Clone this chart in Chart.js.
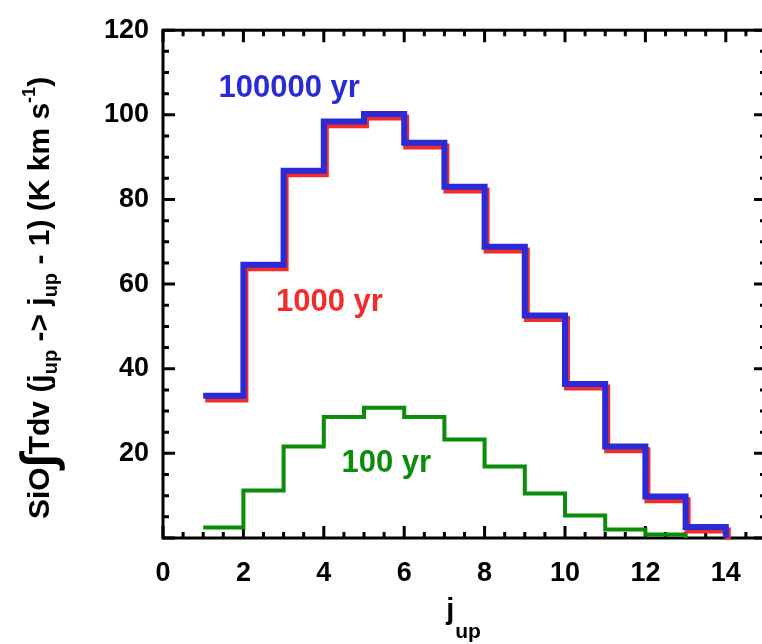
<!DOCTYPE html>
<html>
<head>
<meta charset="utf-8">
<script src="https://cdn.jsdelivr.net/npm/chart.js@4.4.1/dist/chart.umd.min.js"></script>
<style>
html,body{margin:0;padding:0;overflow:hidden;background:#fff}
canvas{display:block}
</style>
</head>
<body>
<canvas id="sioChart" width="790" height="644"></canvas>
<script>
// j_up levels (each step covers j_up .. j_up+1)
const jUp=[1,2,3,4,5,6,7,8,9,10,11,12,13];
const yr100000=[33.6,64.6,86.8,98.4,100.2,93.4,83.0,68.8,52.6,36.4,21.6,9.8,2.6];
const yr1000=[33.1,64.1,86.3,97.9,99.7,92.9,82.5,68.3,52.1,35.9,21.1,9.3,2.1];
const yr100=[2.5,11.2,21.6,28.6,30.8,28.6,23.3,16.9,10.5,5.3,2.0,0.8];
const seriesNames=["100000 yr","1000 yr","100 yr"];
const xTickLabels=[0,2,4,6,8,10,12,14];
const yTickLabels=[20,40,60,80,100,120];

const BLUE="#2a2ad6", RED="#f22b2b", GREEN="#0b8c0b";
const FONT="'Liberation Sans', Arial, sans-serif";

// step outline: one point per level, then drop to zero at the end of the last bin
function steps(vals){
  const pts=vals.map((v,i)=>({x:jUp[i],y:v}));
  const last=jUp[vals.length-1]+1;
  pts.push({x:last,y:vals[vals.length-1]});
  pts.push({x:last,y:0});
  return pts;
}

const frame={
  id:"frame",
  beforeDatasetsDraw(chart){
    const {ctx,chartArea:a,scales:{x,y}}=chart;
    ctx.save();
    ctx.strokeStyle="#000";
    ctx.lineWidth=3;
    ctx.strokeRect(a.left,a.top,a.right-a.left,a.bottom-a.top);
    ctx.beginPath();
    for(let v=0;v<=15;v+=0.5){
      const p=x.getPixelForValue(v);
      const len=(v%2===0)?12:6;
      ctx.moveTo(p,a.bottom);ctx.lineTo(p,a.bottom-len);
      ctx.moveTo(p,a.top);ctx.lineTo(p,a.top+len);
    }
    for(let v=0;v<=120;v+=5){
      const p=y.getPixelForValue(v);
      const len=(v%20===0)?12:6;
      ctx.moveTo(a.left,p);ctx.lineTo(a.left+len,p);
      ctx.moveTo(a.right,p);ctx.lineTo(a.right-len,p);
    }
    ctx.stroke();
    ctx.restore();
  },
  beforeDatasetDraw(chart,args){
    if(args.index===1){chart.ctx.save();chart.ctx.translate(2,1.5);}
  },
  afterDatasetDraw(chart,args){
    if(args.index===1){chart.ctx.restore();}
  },
  afterDraw(chart){
    const {ctx,scales:{x,y}}=chart;
    ctx.save();
    ctx.textBaseline="alphabetic";
    ctx.textAlign="left";
    // series labels
    ctx.font="bold 31px "+FONT;
    ctx.fillStyle=BLUE;
    ctx.fillText(seriesNames[0],x.getPixelForValue(1.38),y.getPixelForValue(104.2));
    ctx.fillStyle=RED;
    ctx.fillText(seriesNames[1],x.getPixelForValue(2.81),y.getPixelForValue(53.7));
    ctx.fillStyle=GREEN;
    ctx.fillText(seriesNames[2],x.getPixelForValue(4.44),y.getPixelForValue(15.6));

    ctx.fillStyle="#000";
    // x title: j_up
    ctx.font="bold 29px "+FONT;
    const jw=ctx.measureText("j").width;
    ctx.font="bold 21px "+FONT;
    const uw=ctx.measureText("up").width;
    const x0=463-(jw+uw)/2;
    ctx.font="bold 29px "+FONT;
    ctx.fillText("j",x0,619);
    ctx.font="bold 21px "+FONT;
    ctx.fillText("up",x0+jw+1,638);

    // y title, rotated
    const parts=[
      {t:"SiO",f:30,dy:0},
      {t:"\u222B",f:48,dy:5},
      {t:"Tdv (j",f:30,dy:0},
      {t:"up",f:20,dy:8},
      {t:" -> j",f:30,dy:0},
      {t:"up",f:20,dy:8},
      {t:" - 1) (K km s",f:30,dy:0},
      {t:"-1",f:18,dy:-14},
      {t:")",f:30,dy:0}
    ];
    let total=0;
    parts.forEach(p=>{ctx.font="bold "+p.f+"px "+FONT;p.w=ctx.measureText(p.t).width;total+=p.w;});
    ctx.translate(49,298);
    ctx.rotate(-Math.PI/2);
    let cx=-total/2;
    parts.forEach(p=>{
      ctx.font="bold "+p.f+"px "+FONT;
      ctx.fillText(p.t,cx,p.dy);
      cx+=p.w;
    });
    ctx.restore();
  }
};

new Chart(document.getElementById("sioChart"),{
  type:"line",
  data:{
    datasets:[
      {label:seriesNames[0],data:steps(yr100000),borderColor:BLUE,borderWidth:6,stepped:"before",pointRadius:0,fill:false,clip:false},
      {label:seriesNames[1],data:steps(yr1000),borderColor:RED,borderWidth:6,stepped:"before",pointRadius:0,fill:false,clip:false},
      {label:seriesNames[2],data:steps(yr100),borderColor:GREEN,borderWidth:4,stepped:"before",pointRadius:0,fill:false,clip:false}
    ]
  },
  options:{
    responsive:false,
    animation:false,
    devicePixelRatio:1,
    layout:{padding:{left:0,right:24,top:22,bottom:0}},
    plugins:{legend:{display:false},tooltip:{enabled:false}},
    scales:{
      x:{
        type:"linear",min:0,max:15,
        grid:{display:false,drawTicks:false},
        border:{display:false},
        afterFit(s){s.height=106;},
        ticks:{
          stepSize:2,includeBounds:false,autoSkip:false,maxRotation:0,padding:19,
          color:"#000",font:{family:FONT,size:27,weight:"bold"},
          callback:v=>xTickLabels.includes(v)?String(v):""
        }
      },
      y:{
        type:"linear",min:0,max:120,
        grid:{display:false,drawTicks:false},
        border:{display:false},
        afterFit(s){s.width=163;},
        ticks:{
          stepSize:20,autoSkip:false,padding:14,
          color:"#000",font:{family:FONT,size:27,weight:"bold"},
          callback:v=>yTickLabels.includes(v)?String(v):""
        }
      }
    }
  },
  plugins:[frame]
});
</script>
</body>
</html>
